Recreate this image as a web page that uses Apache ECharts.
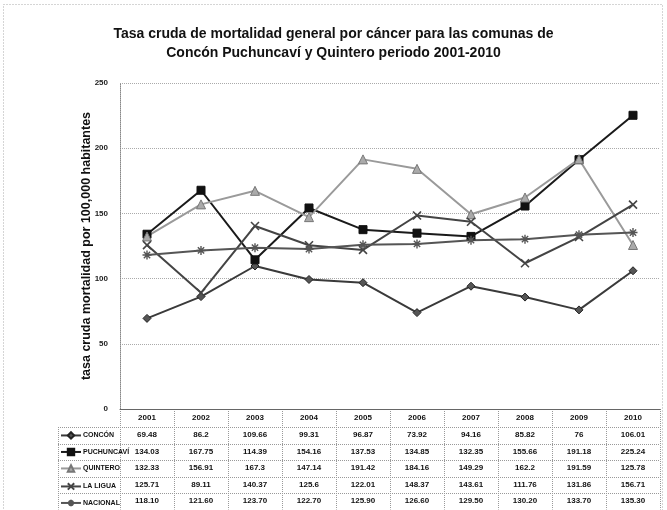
<!DOCTYPE html>
<html>
<head>
<meta charset="utf-8">
<script src="https://cdn.jsdelivr.net/npm/echarts@6/dist/echarts.min.js"></script>
<style>
  html, body { margin: 0; padding: 0; background: #fff; }
  #chart { width: 667px; height: 510px; }
</style>
</head>
<body>
<div id="chart"></div>
<script>
// Years on the category axis (also the header row of the data table)
const years = ['2001', '2002', '2003', '2004', '2005', '2006', '2007', '2008', '2009', '2010'];

// Crude cancer mortality rate per 100,000 inhabitants
const concon     = [69.48, 86.2, 109.66, 99.31, 96.87, 73.92, 94.16, 85.82, 76, 106.01];
const puchuncavi = [134.03, 167.75, 114.39, 154.16, 137.53, 134.85, 132.35, 155.66, 191.18, 225.24];
const quintero   = [132.33, 156.91, 167.3, 147.14, 191.42, 184.16, 149.29, 162.2, 191.59, 125.78];
const laLigua    = [125.71, 89.11, 140.37, 125.6, 122.01, 148.37, 143.61, 111.76, 131.86, 156.71];
const nacional   = [118.10, 121.60, 123.70, 122.70, 125.90, 126.60, 129.50, 130.20, 133.70, 135.30];

const seriesNames = ['CONCÓN', 'PUCHUNCAVÍ', 'QUINTERO', 'LA LIGUA', 'NACIONAL'];
const seriesValues = [concon, puchuncavi, quintero, laLigua, nacional];
const valueDecimals = [null, null, null, null, 2];

// Value axis ticks
const yMin = 0, yMax = 250, yStep = 50;

const titleLines = [
  'Tasa cruda de mortalidad general por cáncer para las comunas de',
  'Concón Puchuncaví y Quintero periodo 2001-2010'
];
const yAxisTitle = 'tasa cruda mortalidad por 100,000 habitantes';

// Marker shapes and greys per series
const crossPath = 'path://M0,0L10,10M10,0L0,10';
const starPath = 'path://M5,0L5,10M0,5L10,5M1.5,1.5L8.5,8.5M8.5,1.5L1.5,8.5';
const styles = [
  { symbol: 'diamond',  size: 8, line: '#3a3a3a', fill: '#555', border: '#222', bw: 1 },
  { symbol: 'rect',     size: 8, line: '#1a1a1a', fill: '#111', border: '#111', bw: 1 },
  { symbol: 'triangle', size: 9, line: '#9a9a9a', fill: '#aaa', border: '#777', bw: 1 },
  { symbol: crossPath,  size: 8, line: '#444',    fill: 'none', border: '#444', bw: 1.6 },
  { symbol: starPath,   size: 9, line: '#555',    fill: 'none', border: '#555', bw: 1.4 }
];

const FONT = 'Liberation Sans, Arial, sans-serif';
const NARROW = 'Liberation Sans Narrow, Liberation Sans, Arial, sans-serif';

// Table geometry (rows under the plot)
const gridBox = { left: 120, right: 7, top: 83, bottom: 101 };
const headerH = 18;
const rowH = 16.5;

const chart = echarts.init(document.getElementById('chart'));

const series = seriesNames.map((name, i) => ({
  name: name,
  type: 'line',
  data: seriesValues[i],
  symbol: styles[i].symbol,
  symbolSize: styles[i].size,
  showAllSymbol: true,
  lineStyle: { color: styles[i].line, width: 2 },
  itemStyle: { color: styles[i].fill, borderColor: styles[i].border, borderWidth: styles[i].bw },
  emphasis: { disabled: true },
  animation: false
}));

// One legend key per table row, so each sits in its own row
const axisYpx = 510 - gridBox.bottom;
const legends = seriesNames.map((name, r) => ({
  orient: 'horizontal',
  left: 60,
  top: axisYpx + headerH + r * rowH + rowH / 2 - 4,
  padding: 0,
  itemWidth: 20,
  itemHeight: 8,
  itemGap: 0,
  selectedMode: false,
  data: [name],
  textStyle: { fontFamily: NARROW, fontWeight: 'bold', fontSize: 7, color: '#111', padding: [0, 0, 0, -3] }
}));

chart.setOption({
  animation: false,
  backgroundColor: '#fff',
  title: {
    text: titleLines.join('\n'),
    left: 'center',
    top: 20,
    textStyle: { fontFamily: FONT, fontWeight: 'bold', fontSize: 14, lineHeight: 19, color: '#111' }
  },
  legend: legends,
  grid: gridBox,
  xAxis: {
    type: 'category',
    data: years,
    boundaryGap: true,
    axisLine: { lineStyle: { color: '#666', width: 1 } },
    axisTick: { show: true, length: 0 },
    axisLabel: { fontFamily: FONT, fontWeight: 'bold', fontSize: 8, color: '#111', margin: 5 }
  },
  yAxis: {
    type: 'value',
    min: yMin,
    max: yMax,
    interval: yStep,
    name: yAxisTitle,
    nameLocation: 'middle',
    nameGap: 27,
    nameMoveOverlap: false,
    nameRotate: 90,
    nameTextStyle: { fontFamily: FONT, fontWeight: 'bold', fontSize: 12.5, color: '#111' },
    axisLine: { show: true, lineStyle: { color: '#888', type: 'dotted' } },
    axisTick: { show: false },
    axisLabel: { fontFamily: FONT, fontWeight: 'bold', fontSize: 8, color: '#222', margin: 12 },
    splitLine: { lineStyle: { color: '#aaa', type: 'dotted', width: 1 } }
  },
  series: series
});

// Data table under the plot, aligned with the category axis
function buildTable() {
  const xs = years.map(y => chart.convertToPixel({ xAxisIndex: 0 }, y));
  const band = xs.length > 1 ? xs[1] - xs[0] : 54;
  const axisY = chart.convertToPixel({ yAxisIndex: 0 }, yMin);
  const headerBottom = axisY + headerH;
  const tableLeft = 58;
  const tableBottom = headerBottom + rowH * seriesNames.length;
  const gridStyle = { stroke: '#999', lineWidth: 1, lineDash: [1, 1] };
  const elements = [];

  // vertical borders
  for (let k = 0; k <= xs.length; k++) {
    const x = Math.round(xs[0] - band / 2 + k * band) + 0.5;
    elements.push({ type: 'line', shape: { x1: x, y1: axisY, x2: x, y2: tableBottom }, style: gridStyle, silent: true });
  }
  elements.push({ type: 'line', shape: { x1: tableLeft + 0.5, y1: headerBottom, x2: tableLeft + 0.5, y2: tableBottom }, style: gridStyle, silent: true });

  // horizontal borders
  for (let r = 0; r <= seriesNames.length; r++) {
    const y = Math.round(headerBottom + r * rowH) + 0.5;
    elements.push({ type: 'line', shape: { x1: tableLeft, y1: y, x2: xs[xs.length - 1] + band / 2, y2: y }, style: gridStyle, silent: true });
  }

  // cell values
  seriesValues.forEach((vals, r) => {
    const cy = headerBottom + r * rowH + rowH / 2;
    vals.forEach((v, c) => {
      const txt = valueDecimals[r] != null ? v.toFixed(valueDecimals[r]) : String(v);
      elements.push({
        type: 'text', silent: true,
        style: {
          x: xs[c], y: cy, text: txt, align: 'center', verticalAlign: 'middle',
          fontFamily: FONT, fontWeight: 'bold', fontSize: 8, fill: '#111'
        }
      });
    });
  });

  // page frame
  elements.push({ type: 'rect', shape: { x: 3.5, y: 4.5, width: 659, height: 520 }, style: { fill: 'none', stroke: '#aaa', lineWidth: 1, lineDash: [1, 2] }, silent: true });

  chart.setOption({ graphic: elements });
}
buildTable();
</script>
</body>
</html>
